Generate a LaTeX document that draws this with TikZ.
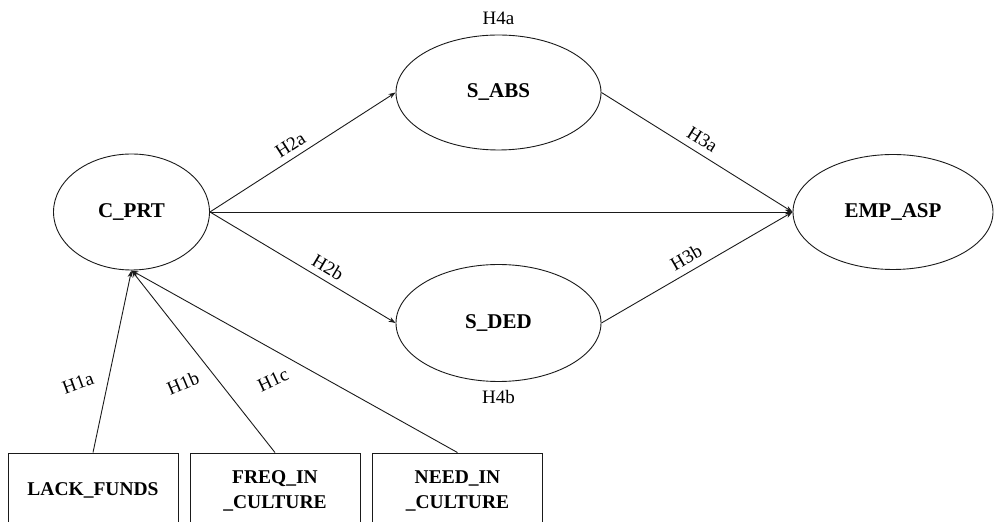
\documentclass[tikz,border=0pt]{standalone}
\usepackage{fontspec}
\setmainfont{Liberation Serif}
\usetikzlibrary{arrows.meta, positioning, shapes.geometric}
\definecolor{cline}{HTML}{1A1A1A}
\tikzset{
  every picture/.style={line width=0.9pt},
  construct/.style={ellipse, draw=cline, inner sep=0pt, font=\fontsize{21}{24}\selectfont\bfseries},
  indicator/.style={rectangle, draw=cline, minimum width=170pt, minimum height=75pt, align=center, inner sep=0pt, font=\fontsize{19.5}{25}\selectfont\bfseries},
  arrow/.style={-{Stealth[length=7pt, width=5pt]}, draw=cline},
  hyp/.style={font=\fontsize{19}{22}\selectfont, inner sep=1pt},
}

\begin{document}
\begin{tikzpicture}[x=1pt, y=1pt]
  \useasboundingbox (0,0) rectangle (994,522);
  \clip (0,0) rectangle (994,522);
  % constructs
  \node[construct, minimum width=156pt, minimum height=116pt] (cprt) at (131.5,310) {C\_PRT};
  \node[construct, minimum width=205pt, minimum height=115pt] (sabs) at (498.5,429.5) {S\_ABS};
  \node[construct, minimum width=205pt, minimum height=117pt] (sded) at (498.5,199) {S\_DED};
  \node[construct, minimum width=200pt, minimum height=115pt] (emp) at (893,310) {EMP\_ASP};
  \node[hyp, above=8pt of sabs] (h4a) {H4a};
  \node[hyp, below=7pt of sded] (h4b) {H4b};
  % antecedents (cut at the bottom edge)
  \node[indicator] (lack) at (93,31.5) {LACK\_FUNDS};
  \node[indicator] (freq) at (275,31.5) {FREQ\_IN\\\_CULTURE};
  \node[indicator] (need) at (457.5,31.5) {NEED\_IN\\\_CULTURE};
  % paths
  \draw[arrow] (lack.north) -- (cprt.south);
  \draw[arrow] (freq.north) -- (cprt.south);
  \draw[arrow] (need.north) -- (cprt.south);
  \node[hyp, rotate=20] (h1a) at (78,139) {H1a};
  \node[hyp, rotate=23] (h1b) at (183,139) {H1b};
  \node[hyp, rotate=25] (h1c) at (273,142) {H1c};
  \draw[arrow] (cprt.east) -- node[hyp, pos=0.47, sloped, above=5pt] (h2a) {H2a} (sabs.west);
  \draw[arrow] (cprt.east) -- node[hyp, pos=0.6, sloped, above=5pt] (h2b) {H2b} (sded.west);
  \draw[arrow] (cprt.east) -- (emp.west);
  \draw[arrow] (sabs.east) -- node[hyp, pos=0.49, sloped, above=6pt] (h3a) {H3a} (emp.west);
  \draw[arrow] (sded.east) -- node[hyp, pos=0.48, sloped, above=6pt] (h3b) {H3b} (emp.west);
\end{tikzpicture}
\end{document}
